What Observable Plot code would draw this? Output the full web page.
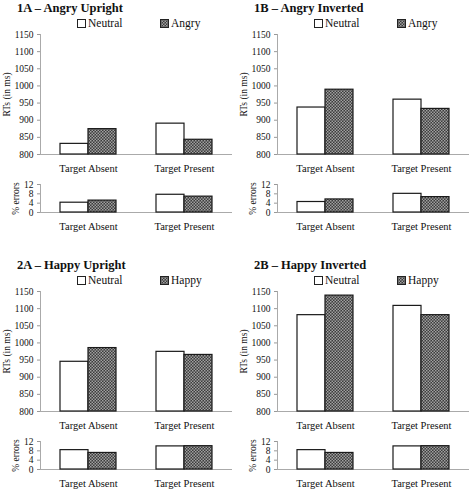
<!DOCTYPE html>
<html>
<head>
<meta charset="utf-8">
<script src="https://cdn.jsdelivr.net/npm/d3@7"></script>
<script src="https://cdn.jsdelivr.net/npm/@observablehq/plot@0.6"></script>
<style>
  html, body { margin: 0; padding: 0; background: #fff; }
  #root { position: relative; width: 474px; height: 491px; overflow: hidden; font-family: "Liberation Serif", "Times New Roman", serif; color: #111; }
  .abs { position: absolute; white-space: nowrap; }
  .title { font-weight: bold; font-size: 12.5px; line-height: 14px; }
  .leg { font-size: 11.5px; line-height: 14px; }
</style>
</head>
<body>
<svg width="0" height="0" style="position:absolute">
  <defs>
    <pattern id="chk" width="3" height="3" patternUnits="userSpaceOnUse">
      <rect width="3" height="3" fill="#3c3c3c"></rect>
      <rect width="1.5" height="1.5" fill="#a0a0a0"></rect>
      <rect x="1.5" y="1.5" width="1.5" height="1.5" fill="#a0a0a0"></rect>
    </pattern>
  </defs>
</svg>
<div id="root"></div>
<script>
// ---- data ----
const conditions = ["Target Absent", "Target Present"];
const panelTitles = ["1A – Angry Upright", "1B – Angry Inverted", "2A – Happy Upright", "2B – Happy Inverted"];
const neutralName = "Neutral";
const emotionNames = ["Angry", "Angry", "Happy", "Happy"];
// RTs (ms): [Target Absent, Target Present]
const rtNeutral = [[831, 890], [937, 960], [945, 974], [1081, 1108]];
const rtEmotion = [[874, 843], [989, 933], [985, 965], [1138, 1081]];
// % errors: [Target Absent, Target Present]
const errNeutral = [[4.2, 7.6], [4.5, 8.0], [8.3, 9.9], [8.3, 9.9]];
const errEmotion = [[5.1, 6.8], [5.6, 6.6], [7.1, 10.0], [7.1, 10.0]];
const rtTicks = [800, 850, 900, 950, 1000, 1050, 1100, 1150];
const errTicks = [0, 4, 8, 12];
const rtLabel = "RTs (in ms)";
const errLabel = "% errors";

// ---- drawing ----
const SERIF = "'Liberation Serif', 'Times New Roman', serif";
function barChart(neutral, emotion, ticks, label, labelOffset, innerH) {
  const lo = ticks[0], hi = ticks[ticks.length - 1];
  const nd = conditions.map((c, i) => ({cond: c, v: neutral[i]}));
  const ed = conditions.map((c, i) => ({cond: c, v: emotion[i]}));
  const half = 28;
  return Plot.plot({
    width: 237,
    height: innerH + 27,
    marginLeft: 40,
    marginRight: 5,
    marginTop: 5,
    marginBottom: 22,
    style: {fontFamily: SERIF, background: "transparent", color: "#111", overflow: "visible"},
    x: {domain: conditions, paddingInner: 40 / 96, paddingOuter: 20 / 96},
    y: {domain: [lo, hi]},
    marks: [
      Plot.ruleY([lo], {stroke: "#aaa", strokeWidth: 1}),
      Plot.frame({anchor: "left", stroke: "#aaa"}),
      Plot.axisY({ticks, tickFormat: d => String(d), tickSize: 3, tickPadding: 4, fontSize: 9.5, stroke: "#999",
        fontFamily: SERIF, label, labelAnchor: "center", labelArrow: "none", labelOffset}),
      Plot.axisX({tickSize: 0, tickPadding: 10, fontSize: 10.5, fontFamily: SERIF, label: null}),
      Plot.barY(nd, {x: "cond", y1: () => lo, y2: "v", insetRight: half, fill: "white", stroke: "#1a1a1a", strokeWidth: 1.2}),
      Plot.barY(ed, {x: "cond", y1: () => lo, y2: "v", insetLeft: half, fill: "url(#chk)", stroke: "#1a1a1a", strokeWidth: 1.2})
    ]
  });
}

const root = document.getElementById("root");
const cols = [0, 237];
const rows = [0, 257];

function addDiv(cls, text, left, top) {
  const d = document.createElement("div");
  d.className = "abs " + cls;
  d.textContent = text;
  d.style.left = left + "px";
  d.style.top = top + "px";
  root.appendChild(d);
  return d;
}
function addSwatch(left, top, patterned) {
  const s = document.createElementNS("http://www.w3.org/2000/svg", "svg");
  s.setAttribute("width", 9);
  s.setAttribute("height", 9);
  s.style.position = "absolute";
  s.style.left = left + "px";
  s.style.top = top + "px";
  const r = document.createElementNS("http://www.w3.org/2000/svg", "rect");
  r.setAttribute("x", 0.5); r.setAttribute("y", 0.5);
  r.setAttribute("width", 8); r.setAttribute("height", 8);
  r.setAttribute("fill", patterned ? "url(#chk)" : "white");
  r.setAttribute("stroke", "#222");
  s.appendChild(r);
  root.appendChild(s);
}

panelTitles.forEach((t, p) => {
  const cx = cols[p % 2], ry = rows[Math.floor(p / 2)];
  addDiv("title", t, cx + 17, ry + 0.5);
  addSwatch(cx + 77, ry + 18.5, false);
  addDiv("leg", neutralName, cx + 88, ry + 16);
  addSwatch(cx + 160, ry + 18.5, true);
  addDiv("leg", emotionNames[p], cx + 171, ry + 16);

  const rt = barChart(rtNeutral[p], rtEmotion[p], rtTicks, rtLabel, 37, 120);
  rt.style.position = "absolute";
  rt.style.left = cx + "px";
  rt.style.top = (ry + 29) + "px";
  root.appendChild(rt);

  const er = barChart(errNeutral[p], errEmotion[p], errTicks, errLabel, 28, 28);
  er.style.position = "absolute";
  er.style.left = cx + "px";
  er.style.top = (ry + 179) + "px";
  root.appendChild(er);
});
</script>
</body>
</html>
